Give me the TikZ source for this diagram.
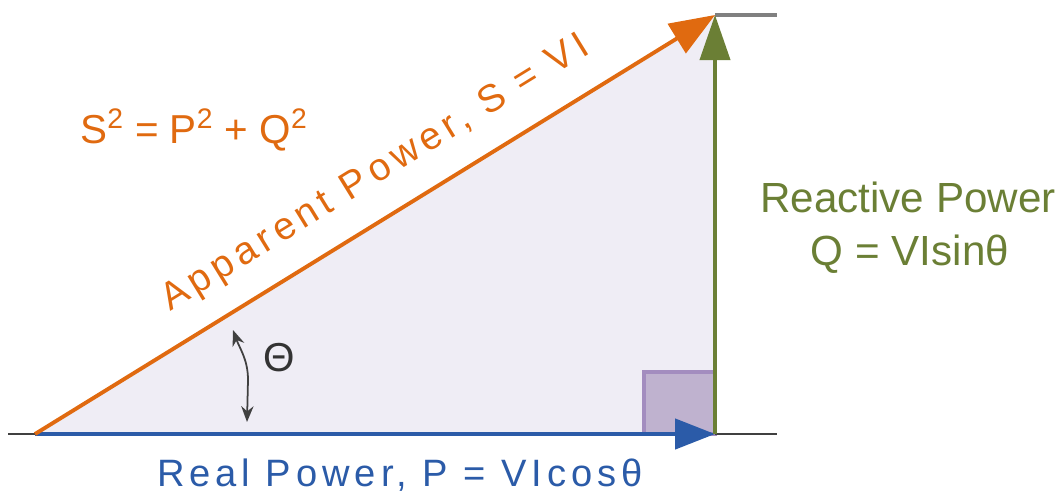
\documentclass[tikz,border=0pt]{standalone}
\usepackage{fontspec}
\setmainfont{Liberation Sans}
\usetikzlibrary{positioning,arrows.meta}
\definecolor{PowOrange}{RGB}{224, 106, 16}
\definecolor{PowGreen}{RGB}{107, 127, 53}
\definecolor{PowBlue}{RGB}{43, 91, 168}
\definecolor{TriFill}{RGB}{239, 237, 245}
\definecolor{SqFill}{RGB}{191, 178, 207}
\definecolor{SqLine}{RGB}{163, 141, 191}

\begin{document}
\begin{tikzpicture}[x=0.02cm, y=-0.02cm,
    lbl/.style={font=\fontsize{23}{27}\selectfont, inner sep=0pt},
    widelbl/.style={font=\fontsize{21.7}{26}\selectfont\addfontfeature{LetterSpace=13}, inner sep=0pt}]
    \useasboundingbox (0,0) rectangle (1061,495);
    \coordinate (o) at (35,434);
    \coordinate (p) at (715,434);
    \coordinate (s) at (715,15);

    \fill[TriFill] (o) -- (s) -- (p) -- cycle;
    \filldraw[fill=SqFill, draw=SqLine, line width=2.5pt] (717,434) -- (644,434) -- (644,372) -- (713,372);

    \draw[line width=1.6pt, black!75] (8,434) -- (o);
    \draw[line width=1.6pt, black!75] (p) -- (777,434);
    \draw[line width=2pt, gray] (s) -- (777,15);

    \draw[PowBlue, line width=2.6pt, -{Triangle[length=40*0.02cm, width=30*0.02cm]}] (o) -- (p);
    \draw[PowGreen, line width=2.2pt, -{Triangle[length=45*0.02cm, width=30*0.02cm]}] (p) -- (s);
    \draw[PowOrange, line width=2.2pt, -{Triangle[length=45*0.02cm, width=34*0.02cm]}] (o) -- (s);

    \draw[black!75, line width=1pt, {Stealth[length=9pt, width=7pt]}-{Stealth[length=9pt, width=7pt]}] (233,330) to[out=-70, in=90] (248,380) -- (247,422);

    \node[lbl, PowOrange] (law) at (194,130) {S\textsuperscript{2} = P\textsuperscript{2} + Q\textsuperscript{2}};
    \node[widelbl, PowOrange, rotate=31.6, font=\fontsize{22}{26}\selectfont\addfontfeature{LetterSpace=14}] (app) at (376,174) {Apparent Power, S = VI};
    \node[lbl, PowGreen, font=\fontsize{24}{28}\selectfont] (react) at (908,197) {Reactive Power};
    \node[lbl, PowGreen, font=\fontsize{24}{28}\selectfont] (qeq) at (910,254) {Q = VIsinθ};
    \node[widelbl, PowBlue] (real) at (400,475) {Real Power, P = VIcosθ};
    \node[lbl, black!80] (theta) at (279,358) {Θ};
\end{tikzpicture}
\end{document}
